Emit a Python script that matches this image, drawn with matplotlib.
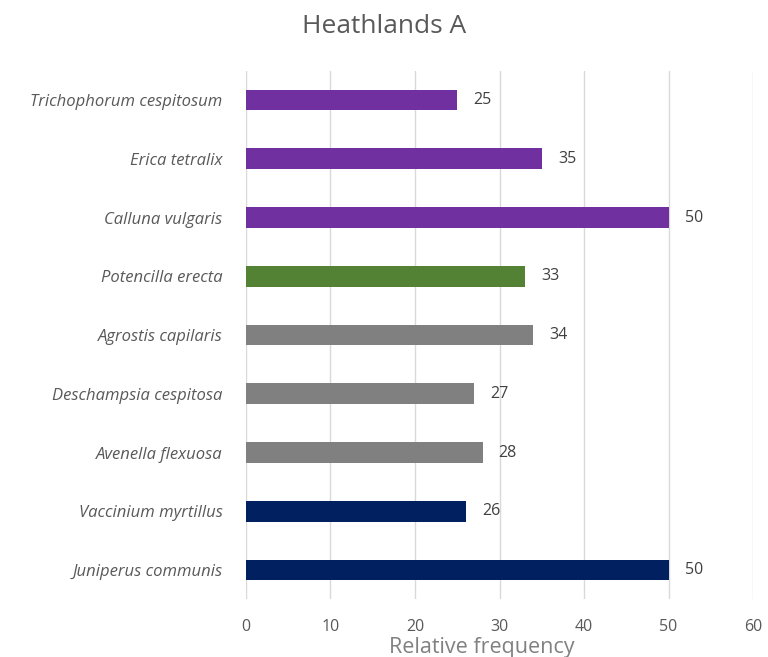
import matplotlib
matplotlib.use("Agg")
import matplotlib.pyplot as plt

species = ["Juniperus communis", "Vaccinium myrtillus", "Avenella flexuosa",
           "Deschampsia cespitosa", "Agrostis capilaris", "Potencilla erecta",
           "Calluna vulgaris", "Erica tetralix", "Trichophorum cespitosum"]
values = [50, 26, 28, 27, 34, 33, 50, 35, 25]
colors = ["#002060", "#002060", "#808080", "#808080", "#808080", "#548235",
          "#7030A0", "#7030A0", "#7030A0"]
xticks = [0, 10, 20, 30, 40, 50, 60]

txt = "#595959"
plt.rcParams["font.family"] = ["Open Sans", "DejaVu Sans"]

fig = plt.figure(figsize=(7.68, 6.57), dpi=100)
ax = fig.add_axes([0.3203, 0.0877, 0.6602, 0.8048])

ypos = list(range(len(species)))
ax.barh(ypos, values, height=0.35, color=colors, zorder=3)
for y, v in zip(ypos, values):
    ax.text(v + 1.9, y, f"{v}", va="center", ha="left", fontsize=11.5, color="#404040")

ax.set_xlim(0, 60)
ax.set_ylim(-0.5, len(species) - 0.5)
ax.set_xticks(xticks)
ax.set_yticks(ypos)
ax.set_yticklabels(species, fontstyle="italic", fontsize=12, color=txt)
ax.tick_params(axis="x", labelsize=11.5, labelcolor=txt, length=0, pad=14)
ax.tick_params(axis="y", length=0, pad=17)
ax.grid(axis="x", color="#d9d9d9", linewidth=1, zorder=0)
for s in ax.spines.values():
    s.set_visible(False)

ax.set_xlabel("Relative frequency", fontsize=15.5, color="#808080")
ax.xaxis.set_label_coords(0.465, -0.072)
fig.suptitle("Heathlands A", fontsize=19, color=txt, y=0.978)

fig.savefig("out.png", dpi=100)
